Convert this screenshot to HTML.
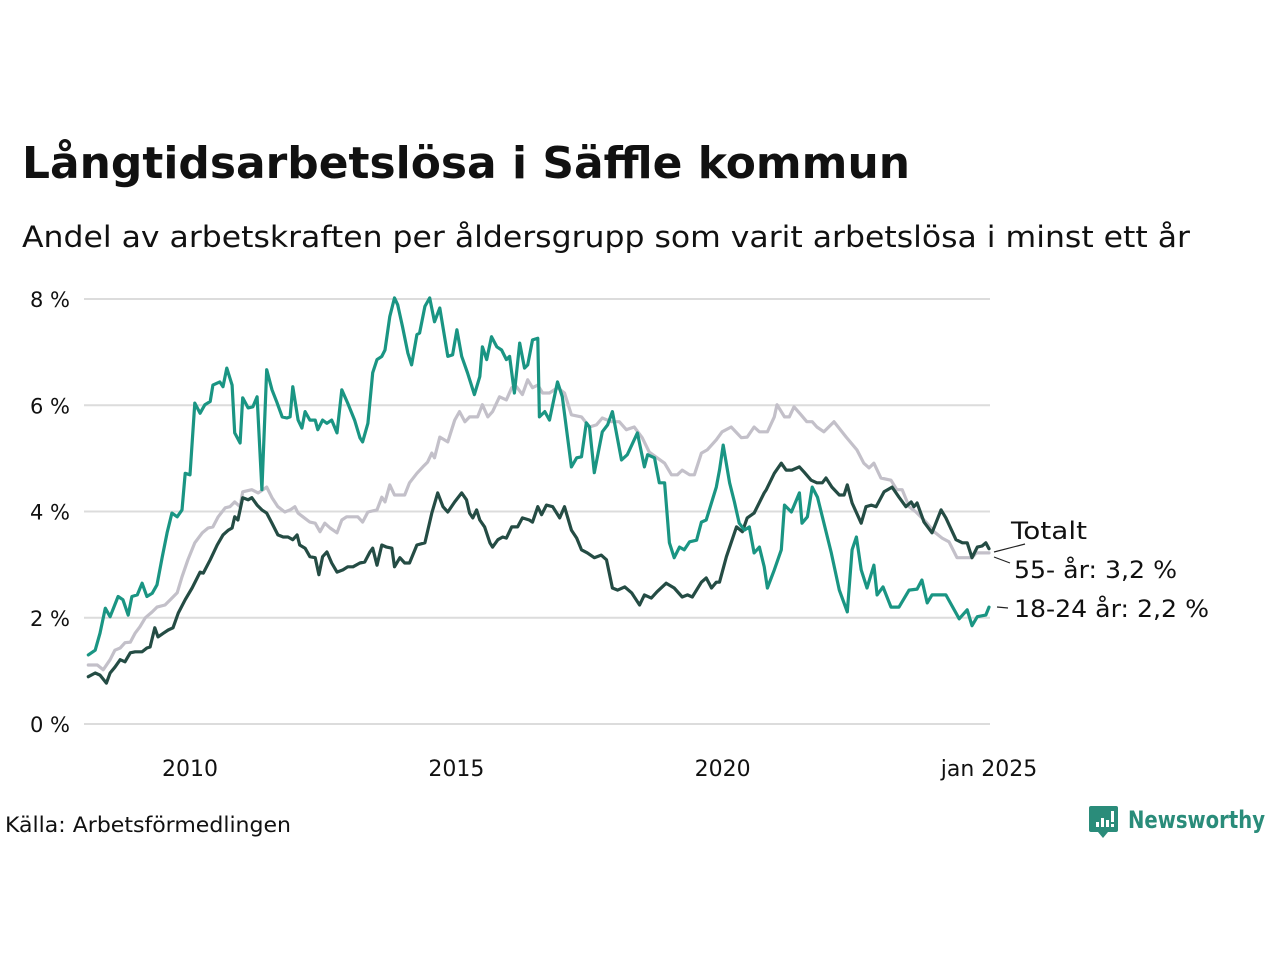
<!DOCTYPE html>
<html><head><meta charset="utf-8"><style>
html,body{margin:0;padding:0;background:#fff;width:1280px;height:960px;overflow:hidden}
svg{display:block;font-family:"DejaVu Sans","Liberation Sans",sans-serif}
</style></head><body>
<svg id="chart" width="1280" height="960" viewBox="0 0 1280 960">
<text x="22" y="178" font-size="44" font-weight="bold" fill="#111" textLength="888" lengthAdjust="spacingAndGlyphs">Långtidsarbetslösa i Säffle kommun</text>
<text x="22" y="247" font-size="29" fill="#111" textLength="1168" lengthAdjust="spacingAndGlyphs">Andel av arbetskraften per åldersgrupp som varit arbetslösa i minst ett år</text>
<g id="grid"></g>
<g id="yticks"></g>
<g id="xticks"></g>
<g id="lines"></g>
<g font-size="24" fill="#111">
<line x1="994" y1="552" x2="1025" y2="544" stroke="#222" stroke-width="1.2"/>
<line x1="994" y1="557" x2="1010" y2="563" stroke="#222" stroke-width="1.2"/>
<line x1="997" y1="607" x2="1008" y2="608" stroke="#222" stroke-width="1.2"/>
<text x="1011" y="539" textLength="76" lengthAdjust="spacingAndGlyphs">Totalt</text>
<text x="1014" y="578" textLength="163" lengthAdjust="spacingAndGlyphs">55- år: 3,2 %</text>
<text x="1014" y="617" textLength="195" lengthAdjust="spacingAndGlyphs">18-24 år: 2,2 %</text>
</g>
<text x="5" y="832" font-size="21" fill="#111" textLength="286" lengthAdjust="spacingAndGlyphs">Källa: Arbetsförmedlingen</text>
<g>
<path d="M1091 806 h25 a2 2 0 0 1 2 2 v22 a2 2 0 0 1 -2 2 h-8 l-5 6 l-5 -6 h-7 a2 2 0 0 1 -2 -2 v-22 a2 2 0 0 1 2 -2z" fill="#2a8c7a"/>
<rect x="1096" y="822" width="3" height="5" fill="#fff"/><rect x="1101" y="818" width="3" height="9" fill="#fff"/><rect x="1106" y="820" width="3" height="7" fill="#fff"/><rect x="1111" y="811" width="3" height="11" fill="#fff"/><rect x="1111" y="824" width="3" height="3" fill="#fff"/>
<text x="1128" y="828" font-size="24" font-weight="bold" fill="#2a8c7a" textLength="137" lengthAdjust="spacingAndGlyphs">Newsworthy</text>
</g>
</svg>
<script>
const yTicks=[0,2,4,6,8];
const yTickLabels=["0 %","2 %","4 %","6 %","8 %"];
const xTicks=[2010,2015,2020,2025];
const xTickLabels=["2010","2015","2020","jan 2025"];
const seriesNames=["55- år","Totalt","18-24 år"];
const tealDates=[2008.09,2008.22,2008.31,2008.41,2008.50,2008.65,2008.74,2008.84,2008.91,2009.01,2009.10,2009.19,2009.29,2009.38,2009.48,2009.57,2009.66,2009.76,2009.85,2009.91,2010.00,2010.09,2010.19,2010.28,2010.38,2010.43,2010.56,2010.62,2010.69,2010.79,2010.84,2010.94,2010.99,2011.09,2011.18,2011.26,2011.35,2011.44,2011.54,2011.63,2011.73,2011.82,2011.88,2011.93,2012.03,2012.10,2012.16,2012.25,2012.35,2012.40,2012.49,2012.57,2012.66,2012.76,2012.85,2012.96,2013.09,2013.19,2013.24,2013.34,2013.43,2013.51,2013.60,2013.66,2013.75,2013.84,2013.90,2013.99,2014.09,2014.16,2014.26,2014.31,2014.41,2014.50,2014.59,2014.69,2014.84,2014.93,2015.01,2015.10,2015.21,2015.34,2015.44,2015.49,2015.57,2015.66,2015.76,2015.85,2015.94,2016.00,2016.09,2016.19,2016.28,2016.34,2016.43,2016.53,2016.56,2016.66,2016.75,2016.90,2016.99,2017.16,2017.26,2017.35,2017.44,2017.50,2017.59,2017.74,2017.84,2017.93,2018.10,2018.21,2018.40,2018.53,2018.59,2018.72,2018.81,2018.91,2019.00,2019.09,2019.19,2019.28,2019.38,2019.51,2019.60,2019.69,2019.88,2019.94,2020.01,2020.13,2020.22,2020.31,2020.41,2020.50,2020.59,2020.69,2020.78,2020.84,2020.97,2021.10,2021.16,2021.29,2021.44,2021.49,2021.59,2021.68,2021.78,2022.04,2022.19,2022.34,2022.43,2022.51,2022.60,2022.71,2022.84,2022.90,2023.01,2023.16,2023.31,2023.50,2023.65,2023.74,2023.84,2023.93,2024.19,2024.44,2024.59,2024.68,2024.78,2024.94,2025.00];
const tealValues=[1.30,1.39,1.71,2.18,2.02,2.40,2.34,2.05,2.40,2.43,2.65,2.40,2.46,2.62,3.15,3.60,3.97,3.90,4.03,4.72,4.69,6.04,5.85,6.01,6.07,6.38,6.44,6.35,6.70,6.38,5.48,5.29,6.14,5.95,5.97,6.16,4.41,6.67,6.29,6.06,5.78,5.76,5.78,6.35,5.72,5.57,5.88,5.72,5.72,5.54,5.72,5.66,5.72,5.48,6.29,6.04,5.72,5.39,5.31,5.66,6.61,6.86,6.92,7.04,7.67,8.02,7.89,7.48,6.98,6.76,7.33,7.36,7.86,8.02,7.57,7.83,6.92,6.95,7.42,6.92,6.61,6.20,6.54,7.10,6.86,7.29,7.10,7.04,6.86,6.92,6.23,7.17,6.70,6.76,7.23,7.26,5.78,5.88,5.72,6.44,6.16,4.84,5.01,5.03,5.67,5.59,4.73,5.50,5.63,5.88,4.97,5.07,5.48,4.84,5.07,5.01,4.54,4.54,3.41,3.13,3.33,3.28,3.43,3.46,3.80,3.84,4.46,4.78,5.25,4.54,4.18,3.78,3.65,3.71,3.22,3.33,2.96,2.56,2.90,3.28,4.12,3.99,4.35,3.78,3.90,4.46,4.27,3.22,2.52,2.11,3.28,3.52,2.90,2.56,2.99,2.43,2.58,2.20,2.20,2.52,2.54,2.71,2.28,2.43,2.43,1.98,2.15,1.85,2.02,2.05,2.20];
const grayDates=[2008.09,2008.26,2008.37,2008.50,2008.59,2008.69,2008.78,2008.88,2008.97,2009.06,2009.16,2009.29,2009.38,2009.53,2009.63,2009.76,2009.85,2009.96,2010.09,2010.23,2010.34,2010.43,2010.53,2010.66,2010.75,2010.84,2010.94,2010.99,2011.16,2011.28,2011.37,2011.44,2011.54,2011.65,2011.78,2011.88,2011.97,2012.03,2012.12,2012.25,2012.35,2012.44,2012.53,2012.63,2012.76,2012.85,2012.94,2013.15,2013.24,2013.34,2013.51,2013.60,2013.66,2013.75,2013.84,2014.03,2014.12,2014.26,2014.37,2014.46,2014.54,2014.59,2014.69,2014.84,2014.97,2015.06,2015.16,2015.25,2015.40,2015.49,2015.59,2015.68,2015.81,2015.94,2016.04,2016.13,2016.24,2016.34,2016.43,2016.53,2016.62,2016.75,2016.90,2017.03,2017.16,2017.35,2017.50,2017.63,2017.74,2017.91,2018.06,2018.19,2018.34,2018.49,2018.62,2018.77,2018.91,2019.04,2019.15,2019.24,2019.38,2019.47,2019.60,2019.71,2019.88,2019.99,2020.16,2020.35,2020.46,2020.59,2020.69,2020.78,2020.84,2020.97,2021.02,2021.16,2021.25,2021.34,2021.47,2021.58,2021.68,2021.77,2021.90,2022.09,2022.32,2022.52,2022.65,2022.75,2022.84,2022.97,2023.16,2023.27,2023.37,2023.50,2023.63,2023.82,2023.97,2024.12,2024.25,2024.40,2024.68,2024.76,2025.00];
const grayValues=[1.11,1.11,1.02,1.21,1.39,1.43,1.53,1.54,1.71,1.83,2.00,2.11,2.20,2.24,2.34,2.47,2.77,3.09,3.41,3.60,3.69,3.71,3.90,4.07,4.09,4.18,4.09,4.37,4.41,4.35,4.41,4.46,4.26,4.09,3.99,4.03,4.09,3.97,3.90,3.80,3.78,3.62,3.78,3.69,3.60,3.84,3.90,3.90,3.80,3.99,4.03,4.27,4.18,4.50,4.31,4.31,4.54,4.72,4.84,4.93,5.10,5.01,5.40,5.31,5.72,5.88,5.69,5.78,5.78,6.01,5.78,5.88,6.16,6.10,6.33,6.35,6.20,6.48,6.33,6.38,6.23,6.23,6.33,6.23,5.82,5.78,5.59,5.63,5.76,5.69,5.69,5.54,5.59,5.39,5.12,5.01,4.91,4.69,4.69,4.78,4.69,4.69,5.10,5.16,5.35,5.50,5.59,5.39,5.40,5.59,5.50,5.50,5.50,5.78,6.01,5.78,5.78,5.97,5.82,5.69,5.69,5.59,5.50,5.69,5.40,5.16,4.91,4.82,4.91,4.63,4.59,4.41,4.41,4.09,3.99,3.80,3.62,3.50,3.43,3.13,3.13,3.22,3.22];
const darkDates=[2008.09,2008.22,2008.31,2008.43,2008.50,2008.59,2008.69,2008.78,2008.88,2008.97,2009.10,2009.19,2009.25,2009.34,2009.40,2009.50,2009.59,2009.68,2009.78,2009.91,2010.04,2010.19,2010.25,2010.38,2010.51,2010.62,2010.72,2010.79,2010.84,2010.90,2010.99,2011.09,2011.16,2011.26,2011.35,2011.44,2011.54,2011.65,2011.75,2011.84,2011.93,2012.01,2012.06,2012.16,2012.25,2012.35,2012.42,2012.49,2012.57,2012.66,2012.76,2012.87,2012.96,2013.06,2013.19,2013.28,2013.38,2013.43,2013.51,2013.60,2013.69,2013.79,2013.84,2013.94,2014.03,2014.12,2014.26,2014.41,2014.54,2014.65,2014.75,2014.84,2014.97,2015.10,2015.19,2015.25,2015.31,2015.38,2015.44,2015.53,2015.63,2015.68,2015.78,2015.87,2015.94,2016.04,2016.15,2016.24,2016.37,2016.43,2016.53,2016.60,2016.69,2016.81,2016.94,2017.03,2017.16,2017.26,2017.35,2017.46,2017.59,2017.72,2017.82,2017.93,2018.03,2018.16,2018.29,2018.44,2018.53,2018.66,2018.77,2018.94,2019.09,2019.24,2019.34,2019.43,2019.60,2019.69,2019.79,2019.88,2019.94,2020.07,2020.26,2020.37,2020.46,2020.59,2020.78,2020.82,2020.97,2021.10,2021.19,2021.30,2021.44,2021.53,2021.66,2021.77,2021.87,2021.94,2022.05,2022.19,2022.28,2022.34,2022.43,2022.60,2022.69,2022.79,2022.88,2023.03,2023.18,2023.31,2023.44,2023.54,2023.59,2023.65,2023.78,2023.93,2024.10,2024.19,2024.38,2024.50,2024.59,2024.68,2024.78,2024.87,2024.94,2025.00];
const darkValues=[0.89,0.96,0.92,0.77,0.96,1.07,1.21,1.17,1.34,1.36,1.36,1.43,1.45,1.81,1.64,1.71,1.77,1.81,2.09,2.34,2.56,2.86,2.84,3.09,3.37,3.56,3.65,3.69,3.90,3.84,4.26,4.22,4.26,4.12,4.03,3.97,3.78,3.56,3.52,3.52,3.47,3.56,3.37,3.31,3.15,3.13,2.81,3.15,3.24,3.03,2.86,2.90,2.96,2.96,3.03,3.05,3.24,3.31,2.99,3.37,3.33,3.31,2.96,3.13,3.03,3.03,3.37,3.41,3.97,4.35,4.09,3.99,4.18,4.35,4.22,3.97,3.88,4.03,3.84,3.71,3.41,3.33,3.47,3.52,3.50,3.71,3.71,3.88,3.84,3.80,4.09,3.94,4.12,4.09,3.88,4.09,3.65,3.50,3.28,3.22,3.13,3.18,3.09,2.56,2.52,2.58,2.47,2.24,2.43,2.37,2.49,2.65,2.56,2.39,2.43,2.39,2.67,2.75,2.56,2.67,2.67,3.15,3.71,3.62,3.88,3.97,4.35,4.41,4.72,4.91,4.78,4.78,4.84,4.74,4.59,4.54,4.54,4.63,4.46,4.31,4.31,4.50,4.16,3.78,4.09,4.12,4.09,4.37,4.46,4.27,4.09,4.18,4.09,4.16,3.80,3.60,4.03,3.88,3.47,3.41,3.41,3.13,3.33,3.35,3.41,3.30];

const NS="http://www.w3.org/2000/svg";
const X0=190,X1=989,T0=2010,T1=2025;
const Y0=724,Y1=299,V0=0,V1=8;
function xScale(t){return X0+(t-T0)*(X1-X0)/(T1-T0);}
function yScale(v){return Y0+(v-V0)*(Y1-Y0)/(V1-V0);}
function mk(tag,attrs,parent){const e=document.createElementNS(NS,tag);for(const k in attrs)e.setAttribute(k,attrs[k]);parent.appendChild(e);return e;}

const grid=document.getElementById('grid'),yt=document.getElementById('yticks'),xt=document.getElementById('xticks'),lines=document.getElementById('lines');
yTicks.forEach((v,i)=>{
  const l=mk('line',{x1:84,x2:990,y1:yScale(v),y2:yScale(v),stroke:'#dcdcdc','stroke-width':2},grid);
  
  
  const t=mk('text',{x:70,y:yScale(v)+8,'font-size':21,'text-anchor':'end',fill:'#111'},yt);
  t.textContent=yTickLabels[i];
  
  
});
xTicks.forEach((v,i)=>{
  const t=mk('text',{x:xScale(v),y:776,'font-size':22,'text-anchor':'middle',fill:'#111'},xt);
  t.textContent=xTickLabels[i];
  
  
});
function draw(dates,vals,color,name){
  const n=Math.min(dates.length,vals.length);
  let d='';
  for(let i=0;i<n;i++)d+=(i?'L':'M')+xScale(dates[i]).toFixed(1)+' '+yScale(vals[i]).toFixed(1);
  const p=mk('path',{d:d,fill:'none',stroke:color,'stroke-width':3.2,'stroke-linejoin':'round','stroke-linecap':'round'},lines);
  
  
}
draw(grayDates,grayValues,'#c3c0c9','line-55-plus');
draw(darkDates,darkValues,'#244c44','line-totalt');
draw(tealDates,tealValues,'#1a9583','line-18-24');
</script>
</body></html>
